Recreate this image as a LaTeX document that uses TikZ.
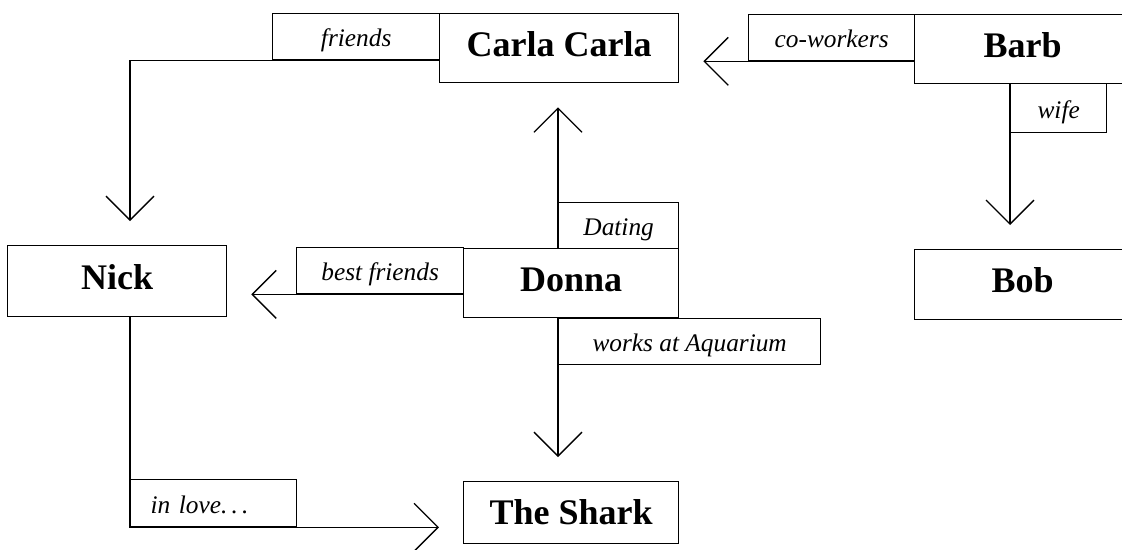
\documentclass[tikz,border=0pt]{standalone}
\usepackage{fontspec}
\setmainfont{Liberation Serif}
\usetikzlibrary{arrows.meta}
\tikzset{
  person/.style={draw, line width=1pt, anchor=north west, inner sep=0pt,
    font=\bfseries\fontsize{27}{30}\selectfont, text height=18pt, text depth=6pt},
  rel/.style={draw, line width=1pt, anchor=north west, inner sep=0pt,
    font=\itshape\fontsize{19}{22}\selectfont, text height=15pt, text depth=0pt},
  conn/.style={line width=1pt, -{Straight Barb[length=18pt,width=36pt]}, shorten >=18pt},
}
\begin{document}
\begin{tikzpicture}[x=0.75pt, y=-0.75pt]
\useasboundingbox (0,0) rectangle (1122,550);
\clip (0,0) rectangle (1122,550);
% people
\node[person, minimum width=179.25pt, minimum height=51.75pt] (carla) at (439,13) {Carla Carla};
\node[person, minimum width=162pt, minimum height=51.75pt] (barb) at (914,14) {Barb};
\node[person, minimum width=164.25pt, minimum height=53.25pt] (nick) at (7,245) {Nick};
\node[person, minimum width=161.25pt, minimum height=51.75pt] (donna) at (463,248) {Donna};
\node[person, minimum width=162pt, minimum height=52.5pt] (bob) at (914,249) {Bob};
\node[person, text depth=0pt, minimum width=161.25pt, minimum height=46.5pt] (shark) at (463,481) {The Shark};
% relation labels
\node[rel, minimum width=125.25pt, minimum height=34.5pt] (friends) at (272,13) {friends};
\node[rel, minimum width=124.5pt, minimum height=34.5pt] (cowork) at (748,14) {co-workers};
\node[rel, minimum width=72pt, minimum height=36.75pt] (wife) at (1010,83) {wife};
\node[rel, minimum width=90pt, minimum height=34.5pt] (dating) at (558,202) {Dating};
\node[rel, minimum width=125.25pt, minimum height=34.5pt] (bestf) at (296,247) {best friends};
\node[rel, minimum width=196.5pt, minimum height=34.5pt] (works) at (558,318) {works at Aquarium};
\node[rel, minimum height=35.25pt, text width=94.5pt, align=left, inner xsep=15pt] (inlove) at (130,479) {in love.\,.\,.};
% connectors
\draw[conn] (carla.west |- friends.south) -| (inlove.west |- nick.north);
\draw[conn] (barb.west |- cowork.south) -- (carla.east |- cowork.south);
\draw[conn] (barb.south -| wife.west) -- (bob.north -| wife.west);
\draw[conn] (donna.north -| dating.west) -- (carla.south -| dating.west);
\draw[conn] (donna.west |- bestf.south) -- (nick.east |- bestf.south);
\draw[conn] (donna.south -| works.west) -- (shark.north -| works.west);
\draw[conn] (nick.south -| inlove.west) |- (shark.west |- inlove.south);
\end{tikzpicture}
\end{document}
